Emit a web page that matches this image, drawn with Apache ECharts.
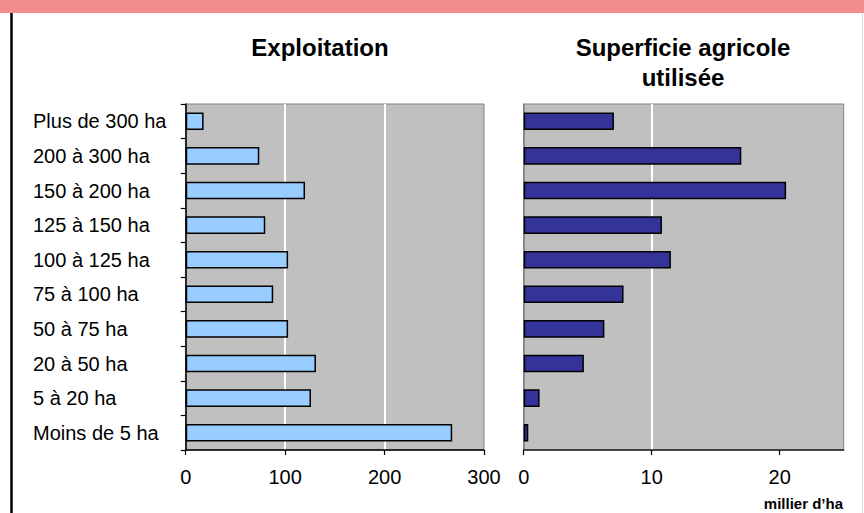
<!DOCTYPE html>
<html>
<head>
<meta charset="utf-8">
<script src="https://cdn.jsdelivr.net/npm/echarts@6/dist/echarts.min.js"></script>
<style>
html,body{margin:0;padding:0;background:#fff;}
#c{width:864px;height:513px;}
</style>
</head>
<body>
<div id="c"></div>
<script>
const categories = ['Moins de 5 ha','5 à 20 ha','20 à 50 ha','50 à 75 ha','75 à 100 ha','100 à 125 ha','125 à 150 ha','150 à 200 ha','200 à 300 ha','Plus de 300 ha'];
const exploitations = [268, 126, 131, 103, 88, 103, 80, 120, 74, 18];
const superficie = [0.36, 1.24, 4.7, 6.3, 7.8, 11.5, 10.8, 20.5, 17.0, 7.05];
const leftTicks = [0, 100, 200, 300];
const rightTicks = [0, 10, 20];
const titleLeft = 'Exploitation';
const titleRight = 'Superficie agricole\nutilisée';
const unitLabel = 'millier d’ha';

const FONT = '"Liberation Sans", Arial, sans-serif';
const chart = echarts.init(document.getElementById('c'), null, {renderer: 'svg'});

const L = {left: 185.7, top: 104, width: 298.3, height: 346};
const R = {left: 523.7, top: 104, width: 320, height: 346};

chart.setOption({
  animation: false,
  backgroundColor: '#fff',
  textStyle: {fontFamily: FONT, color: '#000'},
  grid: [
    {left: L.left, top: L.top, width: L.width, height: L.height, show: true, backgroundColor: '#c0c0c0', borderColor: '#808080', borderWidth: 1},
    {left: R.left, top: R.top, width: R.width, height: R.height, show: true, backgroundColor: '#c0c0c0', borderColor: '#808080', borderWidth: 1}
  ],
  xAxis: [
    {type: 'value', gridIndex: 0, min: 0, max: 300, interval: 100,
     axisLine: {show: true, lineStyle: {color: '#000', width: 1.5}},
     axisTick: {show: true, length: 5, lineStyle: {color: '#000', width: 1.2}},
     axisLabel: {fontSize: 20, color: '#000', fontFamily: FONT, margin: 17, customValues: leftTicks},
     splitLine: {show: true, showMinLine: false, showMaxLine: false, lineStyle: {color: '#fff', width: 2}}},
    {type: 'value', gridIndex: 1, min: 0, max: 25, interval: 10,
     axisLine: {show: true, lineStyle: {color: '#222', width: 1.5}},
     axisTick: {show: true, length: 5, lineStyle: {color: '#000', width: 1.2}, customValues: rightTicks},
     axisLabel: {fontSize: 20, color: '#000', fontFamily: FONT, margin: 17, customValues: rightTicks},
     splitLine: {show: true, showMinLine: false, showMaxLine: false, lineStyle: {color: '#fff', width: 2}}}
  ],
  yAxis: [
    {type: 'category', gridIndex: 0, data: categories,
     axisLine: {show: true, lineStyle: {color: '#000', width: 1.5}},
     axisTick: {show: true, length: 5, inside: false, lineStyle: {color: '#000', width: 1.2}},
     axisLabel: {fontSize: 20, color: '#000', fontFamily: FONT, align: 'left', margin: L.left - 33}},
    {type: 'category', gridIndex: 1, data: categories,
     axisLine: {show: true, lineStyle: {color: '#808080', width: 1.5}},
     axisTick: {show: false},
     axisLabel: {show: false}}
  ],
  series: [
    {type: 'bar', xAxisIndex: 0, yAxisIndex: 0, data: exploitations, barCategoryGap: '49%',
     itemStyle: {color: '#99ccff', borderColor: '#000', borderWidth: 1.5}},
    {type: 'bar', xAxisIndex: 1, yAxisIndex: 1, data: superficie, barCategoryGap: '49%',
     itemStyle: {color: '#333399', borderColor: '#000', borderWidth: 1.5}}
  ],
  graphic: [
    {type: 'rect', shape: {x: 0, y: 0, width: 864, height: 13}, style: {fill: '#f28d8d'}, z: 10},
    {type: 'line', shape: {x1: 11.5, y1: 13, x2: 11.5, y2: 513}, style: {stroke: '#000', lineWidth: 2.5}, z: 10},
    {type: 'line', shape: {x1: 862.5, y1: 13, x2: 862.5, y2: 513}, style: {stroke: '#d8d8d8', lineWidth: 1}, z: 10},
    {type: 'text', x: 320, y: 47, style: {text: titleLeft, font: 'bold 24px ' + FONT, fill: '#000', textAlign: 'center', textVerticalAlign: 'middle'}, z: 10},
    {type: 'text', x: 683, y: 62, style: {text: titleRight, font: 'bold 24px ' + FONT, fill: '#000', textAlign: 'center', textVerticalAlign: 'middle', lineHeight: 30}, z: 10},
    {type: 'text', x: 843, y: 503, style: {text: unitLabel, font: 'bold 15px ' + FONT, fill: '#000', textAlign: 'right', textVerticalAlign: 'middle'}, z: 10}
  ]
});
</script>
</body>
</html>
